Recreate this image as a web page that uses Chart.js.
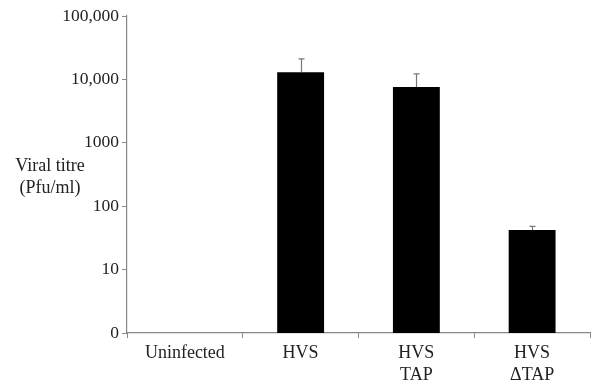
<!DOCTYPE html>
<html>
<head>
<meta charset="utf-8">
<script src="https://cdn.jsdelivr.net/npm/chart.js@4"></script>
<style>
  html, body { margin: 0; padding: 0; background: #fff; }
  #wrap { width: 592px; height: 387px; position: relative; }
</style>
</head>
<body>
<div id="wrap"><canvas id="myChart" width="592" height="387"></canvas></div>
<script>
const categories = ["Uninfected", ["HVS"], ["HVS", "TAP"], ["HVS", "\u0394TAP"]];
const titre = [null, 13000, 7600, 42];
const titreErr = [null, 21000, 12200, 48];
const yTicks = [1, 10, 100, 1000, 10000, 100000];
const yTickLabels = ["0", "10", "100", "1000", "10,000", "100,000"];

const serif = "'Liberation Serif', 'Times New Roman', serif";

// error bars + y-axis title
const extras = {
  id: "extras",
  afterDatasetsDraw(chart) {
    const c = chart.ctx;
    const x = chart.scales.x;
    const y = chart.scales.y;
    c.save();
    c.strokeStyle = "#777";
    c.lineWidth = 1.2;
    titreErr.forEach(function (v, i) {
      if (v == null) return;
      const px = Math.round(x.getPixelForValue(i)) + 0.5;
      const top = y.getPixelForValue(v);
      const base = y.getPixelForValue(titre[i]);
      c.beginPath();
      c.moveTo(px, base);
      c.lineTo(px, top);
      c.moveTo(px - 3, top);
      c.lineTo(px + 3, top);
      c.stroke();
    });
    c.fillStyle = "#222";
    c.font = "18px " + serif;
    c.textAlign = "center";
    c.textBaseline = "middle";
    c.fillText("Viral titre", 50, 166);
    c.fillText("(Pfu/ml)", 50, 188);
    c.restore();
  },
};

const ctx = document.getElementById("myChart").getContext("2d");
const myChart = new Chart(ctx, {
  type: "bar",
  data: {
    labels: categories,
    datasets: [
      {
        data: titre,
        backgroundColor: "#000",
        borderWidth: 0,
        categoryPercentage: 1,
        barPercentage: 0.405,
      },
    ],
  },
  options: {
    responsive: false,
    animation: false,
    layout: { padding: { top: 16, right: 2, left: 0, bottom: 0 } },
    plugins: { legend: { display: false }, tooltip: { enabled: false } },
    scales: {
      x: {
        offset: true,
        border: { color: "#888", width: 1.2 },
        grid: {
          offset: true,
          drawOnChartArea: false,
          drawTicks: true,
          tickLength: 5,
          color: "#888",
        },
        ticks: {
          color: "#222",
          font: { family: serif, size: 18, lineHeight: 1.22 },
          padding: 4,
          maxRotation: 0,
          autoSkip: false,
        },
        afterFit(scale) {
          scale.height = 54;
        },
      },
      y: {
        type: "logarithmic",
        min: 1,
        max: 100000,
        border: { color: "#888", width: 1.2 },
        grid: {
          drawOnChartArea: false,
          drawTicks: true,
          tickLength: 5,
          color: "#888",
        },
        afterBuildTicks(scale) {
          scale.ticks = yTicks.map(function (v) {
            return { value: v };
          });
        },
        ticks: {
          color: "#222",
          font: { family: serif, size: 17.5 },
          padding: 3,
          callback: function (value) {
            const i = yTicks.indexOf(value);
            return i >= 0 ? yTickLabels[i] : "";
          },
        },
        afterFit(scale) {
          scale.width = 127;
        },
      },
    },
  },
  plugins: [extras],
});
</script>
</body>
</html>
